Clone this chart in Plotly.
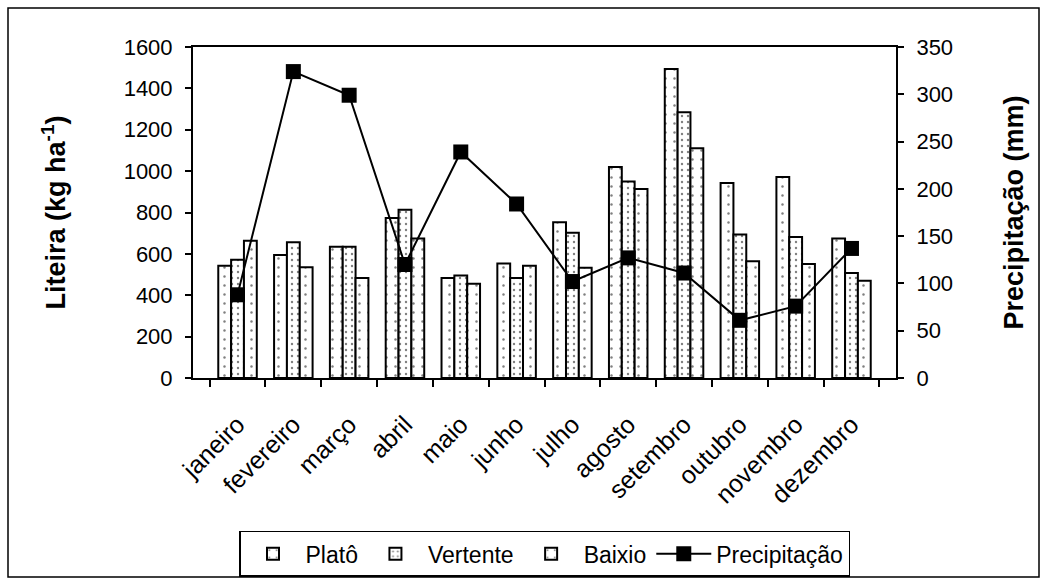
import plotly.graph_objects as go

months = ["janeiro", "fevereiro", "março", "abril", "maio", "junho", "julho",
          "agosto", "setembro", "outubro", "novembro", "dezembro"]
plato = [543, 595, 634, 773, 483, 553, 753, 1020, 1494, 942, 971, 674]
vertente = [572, 656, 634, 813, 495, 483, 702, 950, 1284, 694, 682, 508]
baixio = [664, 535, 483, 674, 456, 543, 533, 913, 1111, 564, 551, 470]
precip = [88, 324, 299, 120, 239, 184, 102, 127, 111, 61, 76, 137]

FONT = "Arial, Liberation Sans, sans-serif"

fig = go.Figure()

def bar(name, vals, size, sol):
    return go.Bar(
        name=name, x=months, y=vals,
        marker=dict(color="white", line=dict(color="black", width=2),
                    pattern=dict(shape=".", fgcolor="black", bgcolor="white",
                                 size=size, solidity=sol)),
        yaxis="y")

fig.add_trace(bar("Platô", plato, 9, 0.06))
fig.add_trace(bar("Vertente", vertente, 6, 0.12))
fig.add_trace(bar("Baixio", baixio, 9, 0.06))
fig.add_trace(go.Scatter(
    name="Precipitação", x=months, y=precip, yaxis="y2",
    mode="lines+markers",
    line=dict(color="black", width=2),
    marker=dict(symbol="square", size=15, color="black")))

fig.update_layout(
    width=1047, height=580,
    margin=dict(l=193, r=151, t=47, b=202, autoexpand=False),
    paper_bgcolor="white", plot_bgcolor="white",
    font=dict(family=FONT, size=22, color="black"),
    barmode="group", bargap=0.31, bargroupgap=0,
    showlegend=True,
    legend=dict(orientation="h", x=0.5, xanchor="center", y=-0.462, yanchor="top",
                bordercolor="black", borderwidth=1.5, font=dict(size=23),
                itemwidth=55, tracegroupgap=0),
    xaxis=dict(type="category", tickson="boundaries", ticks="outside", ticklen=7,
               tickwidth=2, tickcolor="black", showline=True, linecolor="black",
               linewidth=2, mirror=True, tickangle=-45, showgrid=False,
               tickfont=dict(size=25), ticklabelstandoff=20, automargin=False),
    yaxis=dict(range=[0, 1600], dtick=200, ticks="outside", ticklen=6, tickwidth=2,
               tickcolor="black", showline=True, linecolor="black", linewidth=2,
               showgrid=False, zeroline=False, tickfont=dict(size=22),
               ticklabelstandoff=8, automargin=False,
               title=dict(text="<b>Liteira (kg ha<sup>-1</sup>)</b>",
                          font=dict(size=27), standoff=50)),
    yaxis2=dict(range=[0, 350], dtick=50, overlaying="y", side="right",
                ticks="outside", ticklen=6, tickwidth=2, tickcolor="black",
                showline=True, linecolor="black", linewidth=2, showgrid=False,
                zeroline=False, tickfont=dict(size=22), ticklabelstandoff=8,
                automargin=False,
                title=dict(text="<b>Precipitação (mm)</b>", font=dict(size=27),
                           standoff=52)),
    shapes=[dict(type="rect", xref="paper", yref="paper",
                 x0=(8 - 193) / 703, x1=(1039 - 193) / 703,
                 y0=(378 - 577) / 331, y1=(378 - 8) / 331,
                 line=dict(color="black", width=1.5), fillcolor="rgba(0,0,0,0)",
                 layer="below")],
)

fig.write_html("out.html")
